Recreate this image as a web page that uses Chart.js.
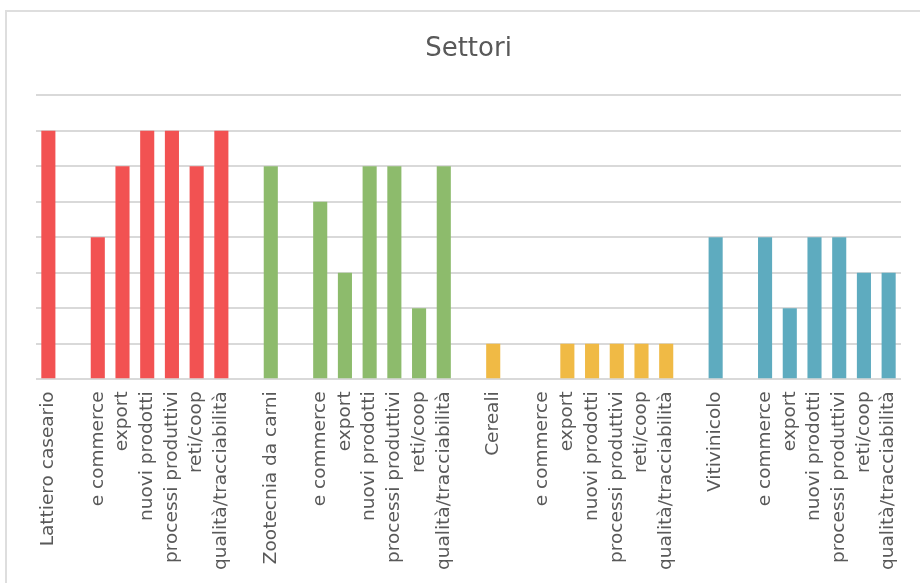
<!DOCTYPE html>
<html>
<head>
<meta charset="utf-8">
<script src="https://cdn.jsdelivr.net/npm/chart.js@4"></script>
<style>
  html, body { margin: 0; padding: 0; background: #fff; overflow: hidden; }
  #frame { position: absolute; left: 5px; top: 10px; width: 960px; height: 620px; border: 2px solid #dedede; box-sizing: border-box; }
  #wrap { position: absolute; left: 0; top: 0; width: 920px; height: 583px; }
</style>
</head>
<body>
<div id="frame"></div>
<div id="wrap"><canvas id="settori"></canvas></div>
<script>
var sectors = ["Lattiero caseario", "Zootecnia da carni", "Cereali", "Vitivinicolo"];
var topics = ["e commerce", "export", "nuovi prodotti", "processi produttivi", "reti/coop", "qualità/tracciabilità"];
var sectorValues = [7, 6, 1, 4];
var topicValues = [
  [4, 6, 7, 7, 6, 7],
  [5, 3, 6, 6, 2, 6],
  [0, 1, 1, 1, 1, 1],
  [4, 2, 4, 4, 3, 3]
];
var sectorColors = ["#f25252", "#8dbb6c", "#f0ba45", "#5eabbf"];

// one column for the sector, a blank, the topics, then a blank before the next sector
var labels = [], values = [], colors = [];
sectors.forEach(function (name, i) {
  labels.push(name); values.push(sectorValues[i]); colors.push(sectorColors[i]);
  labels.push(""); values.push(null); colors.push(sectorColors[i]);
  topics.forEach(function (t, j) {
    labels.push(t); values.push(topicValues[i][j]); colors.push(sectorColors[i]);
  });
  if (i < sectors.length - 1) {
    labels.push(""); values.push(null); colors.push(sectorColors[i]);
  }
});

var ctx = document.getElementById("settori").getContext('2d');
var myChart = new Chart(ctx, {
  type: 'bar',
  data: {
    labels: labels,
    datasets: [{
      backgroundColor: colors,
      data: values,
      barPercentage: 0.57,
      categoryPercentage: 1
    }]
  },
  options: {
    responsive: true,
    maintainAspectRatio: false,
    animation: false,
    layout: { padding: { left: 36, right: 19, top: 34, bottom: 9 } },
    plugins: {
      legend: { display: false },
      tooltip: { enabled: false },
      title: {
        display: true,
        text: "Settori",
        color: "#595959",
        font: { family: "DejaVu Sans", size: 26, weight: 'normal' },
        padding: { top: 0, bottom: 30 }
      }
    },
    scales: {
      x: {
        grid: { display: false },
        border: { display: false },
        ticks: {
          autoSkip: false,
          minRotation: 90,
          maxRotation: 90,
          padding: 4,
          color: "#595959",
          font: { family: "DejaVu Sans", size: 18.5 }
        }
      },
      y: {
        min: 0,
        max: 8,
        border: { display: false },
        grid: { color: "#d9d9d9", lineWidth: 2, drawTicks: false },
        ticks: { display: false, stepSize: 1 }
      }
    }
  }
});
</script>
</body>
</html>
